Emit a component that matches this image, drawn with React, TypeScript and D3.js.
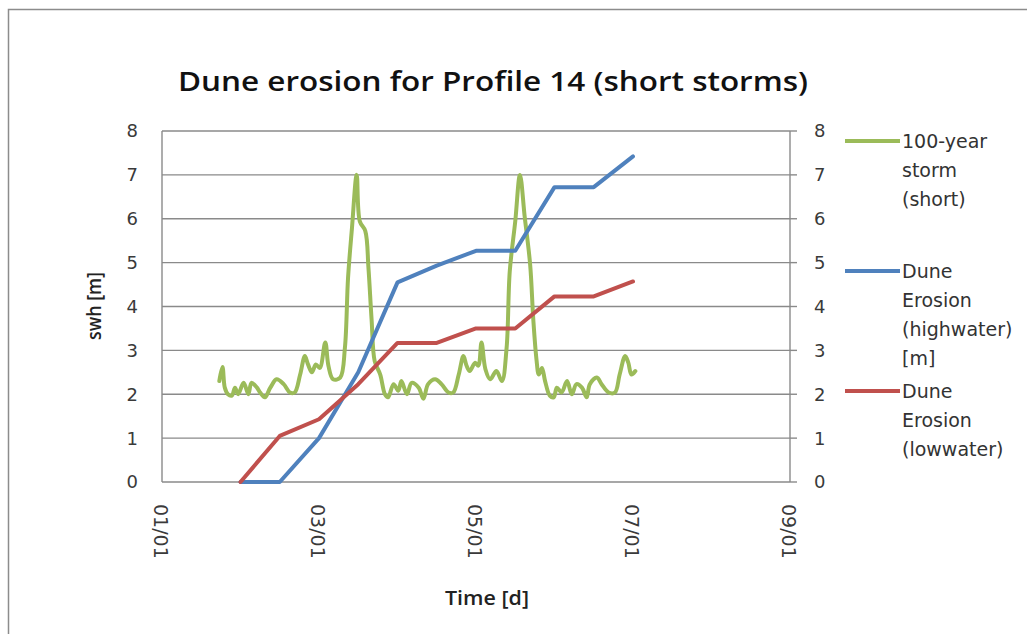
import React from "react";
import * as d3 from "d3";

// chart text
const TITLE = "Dune erosion for Profile 14 (short storms)";
const Y_TITLE = "swh [m]";
const X_TITLE = "Time [d]";

// axes
const Y_TICKS = [0, 1, 2, 3, 4, 5, 6, 7, 8];
const X_TICK_DAYS = [1, 3, 5, 7, 9];
const X_TICK_LABELS = ["01/01", "03/01", "05/01", "07/01", "09/01"];

// 100-year storm (short): significant wave height
const STORM_DAYS = [
  1.73, 1.77, 1.8, 1.84, 1.89, 1.93, 1.97, 2.04, 2.1, 2.14, 2.21, 2.25, 2.31,
  2.38, 2.46, 2.55, 2.63, 2.69, 2.76, 2.82, 2.86, 2.91, 2.96, 3.01, 3.08, 3.12,
  3.18, 3.27, 3.33, 3.37, 3.42, 3.48, 3.52, 3.59, 3.63, 3.67, 3.71, 3.78, 3.84,
  3.88, 3.95, 4.01, 4.05, 4.12, 4.18, 4.27, 4.33, 4.39, 4.48, 4.56, 4.65, 4.71,
  4.78, 4.84, 4.88, 4.92, 4.99, 5.03, 5.07, 5.12, 5.18, 5.26, 5.33, 5.39, 5.43,
  5.5, 5.56, 5.62, 5.69, 5.73, 5.77, 5.8, 5.84, 5.88, 5.94, 5.99, 6.03, 6.09,
  6.16, 6.22, 6.28, 6.35, 6.41, 6.45, 6.54, 6.6, 6.69, 6.77, 6.83, 6.9, 6.94,
  6.98, 7.03,
];
const STORM_SWH = [
  2.3, 2.62, 2.15, 2.0, 1.97, 2.15, 2.0, 2.26, 2.0, 2.26, 2.15, 2.04, 1.93,
  2.15, 2.34, 2.23, 2.04, 2.04, 2.45, 2.87, 2.68, 2.5, 2.68, 2.6, 3.18, 2.65,
  2.34, 2.38, 3.06, 4.65, 5.79, 7.0, 5.94, 5.72, 4.88, 3.7, 2.75, 2.45, 2.0,
  1.93, 2.23, 2.08, 2.3, 2.0, 2.26, 2.15, 1.9, 2.23, 2.34, 2.23, 2.04, 2.04,
  2.45, 2.87, 2.65, 2.53, 2.72, 2.65, 3.18, 2.57, 2.34, 2.53, 2.3, 3.06, 4.8,
  5.94, 7.0, 6.05, 4.95, 3.7, 2.8, 2.45, 2.6, 2.3, 1.97, 1.93, 2.15, 2.04,
  2.3, 2.0, 2.23, 2.15, 1.93, 2.23, 2.38, 2.23, 2.04, 2.04, 2.45, 2.87, 2.72,
  2.45, 2.53,
];

// dune erosion, twice a day
const EROSION_DAYS = [2, 2.5, 3, 3.5, 4, 4.5, 5, 5.5, 6, 6.5, 7];
const EROSION_HIGH = [0, 0, 1.0, 2.5, 4.55, 4.93, 5.27, 5.27, 6.72, 6.72, 7.42];
const EROSION_LOW = [0, 1.05, 1.43, 2.23, 3.17, 3.17, 3.5, 3.5, 4.23, 4.23, 4.57];

const LEGEND_LINES = [
  ["100-year", "storm", "(short)"],
  ["Dune", "Erosion", "(highwater)", "[m]"],
  ["Dune", "Erosion", "(lowwater)"],
];
const LEGEND_COLORS = ["#9bbb59", "#4f81bd", "#c0504d"];

const W = 1027;
const H = 634;
const plot = { left: 162, right: 790, top: 131, bottom: 482 };
const gridColor = "#8a8a8a";
const smallFont = "'DejaVu Sans', sans-serif";
const titleFont = "'Open Sans', Lato, sans-serif";

export default function App() {
  const x = d3.scaleLinear().domain([1, 9]).range([plot.left, plot.right]);
  const y = d3.scaleLinear().domain([0, 8]).range([plot.bottom, plot.top]);

  const smooth = d3
    .line<number>()
    .x((_, i) => x(STORM_DAYS[i]))
    .y((v) => y(v))
    .curve(d3.curveCatmullRom.alpha(0.5));

  const straight = (days: number[]) =>
    d3
      .line<number>()
      .x((_, i) => x(days[i]))
      .y((v) => y(v));

  const series = [
    { d: smooth(STORM_SWH), color: LEGEND_COLORS[0] },
    { d: straight(EROSION_DAYS)(EROSION_HIGH), color: LEGEND_COLORS[1] },
    { d: straight(EROSION_DAYS)(EROSION_LOW), color: LEGEND_COLORS[2] },
  ];

  // legend rows start at these y positions, one row per text line
  const legendStart = [141, 271, 391];
  const rowH = 29;

  return (
    <div style={{ position: "fixed", left: 0, top: 0 }}>
      <svg width={W} height={H} style={{ display: "block", background: "#fff" }}>
        <rect x={8.5} y={9.5} width={1040} height={660} fill="#fff" stroke="#8c8c8c" strokeWidth={1.5} />

        <text
          x={493}
          y={91}
          textAnchor="middle"
          fontFamily={titleFont}
          fontWeight={600}
          fontSize={27}
          fill="#111"
          textLength={630}
          lengthAdjust="spacingAndGlyphs"
        >
          {TITLE}
        </text>

        {/* gridlines */}
        {Y_TICKS.map((t) => (
          <line key={t} x1={plot.left} x2={plot.right} y1={y(t)} y2={y(t)} stroke={gridColor} strokeWidth={1.4} />
        ))}
        {/* axes */}
        <line x1={plot.left} x2={plot.left} y1={plot.top} y2={plot.bottom} stroke={gridColor} strokeWidth={1.4} />
        <line x1={plot.right} x2={plot.right} y1={plot.top} y2={plot.bottom} stroke={gridColor} strokeWidth={1.4} />
        {Y_TICKS.map((t) => (
          <line key={"rt" + t} x1={plot.right} x2={plot.right + 7} y1={y(t)} y2={y(t)} stroke={gridColor} strokeWidth={1.4} />
        ))}

        {/* y labels */}
        {Y_TICKS.map((t) => (
          <text key={"l" + t} x={138} y={y(t)} dy="0.36em" textAnchor="end" fontFamily={smallFont} fontSize={18} fill="#3a3a3a">
            {t}
          </text>
        ))}
        {Y_TICKS.map((t) => (
          <text key={"r" + t} x={814} y={y(t)} dy="0.36em" textAnchor="start" fontFamily={smallFont} fontSize={18} fill="#3a3a3a">
            {t}
          </text>
        ))}

        {/* x labels */}
        {X_TICK_DAYS.map((d, i) => (
          <text
            key={d}
            transform={`translate(${x(d) - 1},504) rotate(90)`}
            dy="0.36em"
            fontFamily={smallFont}
            fontSize={19}
            fill="#3a3a3a"
          >
            {X_TICK_LABELS[i]}
          </text>
        ))}

        <text
          x={487}
          y={605}
          textAnchor="middle"
          fontFamily={titleFont}
          fontWeight={600}
          fontSize={19}
          fill="#222"
          textLength={84}
          lengthAdjust="spacingAndGlyphs"
        >
          {X_TITLE}
        </text>
        <text
          transform={`translate(101,306) rotate(-90)`}
          textAnchor="middle"
          fontFamily={titleFont}
          fontWeight={600}
          fontSize={19}
          fill="#222"
          textLength={68}
          lengthAdjust="spacingAndGlyphs"
        >
          {Y_TITLE}
        </text>

        {/* series */}
        {series.map((s, i) => (
          <path
            key={i}
            d={s.d ?? ""}
            fill="none"
            stroke={s.color}
            strokeWidth={4}
            strokeLinejoin="round"
            strokeLinecap="round"
          />
        ))}

        {/* legend */}
        {LEGEND_LINES.map((lines, i) => (
          <g key={"lg" + i}>
            <line x1={845} x2={900} y1={legendStart[i]} y2={legendStart[i]} stroke={LEGEND_COLORS[i]} strokeWidth={4} />
            {lines.map((ln, j) => (
              <text
                key={j}
                x={902}
                y={legendStart[i] + j * rowH}
                dy="0.36em"
                fontFamily={smallFont}
                fontSize={19}
                fill="#333"
              >
                {ln}
              </text>
            ))}
          </g>
        ))}
      </svg>
    </div>
  );
}
